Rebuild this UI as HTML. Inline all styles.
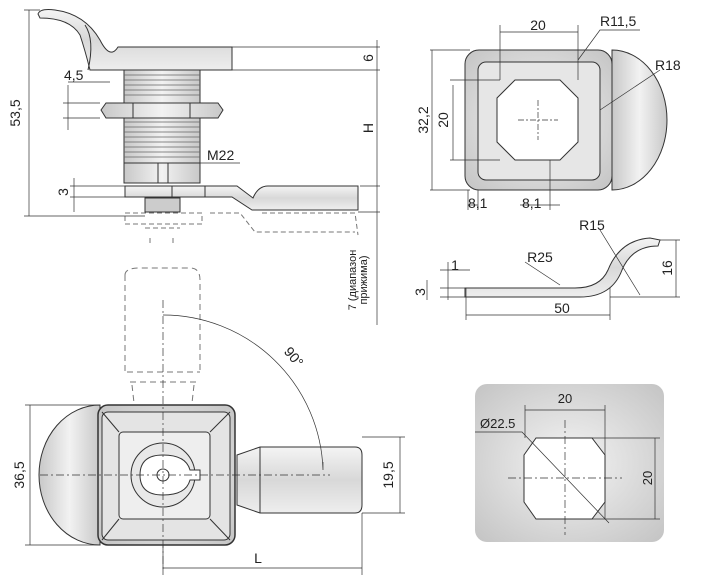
<!DOCTYPE html>
<html><head><style>html,body{margin:0;padding:0;background:#fff}svg{display:block}text{font-family:"Liberation Sans",sans-serif;fill:#222}</style></head><body>
<svg width="707" height="581" viewBox="0 0 707 581" xmlns="http://www.w3.org/2000/svg">
<defs>
<linearGradient id="g" x1="0" y1="0" x2="0" y2="1"><stop offset="0" stop-color="#f4f4f4"/><stop offset="0.5" stop-color="#d8d8d8"/><stop offset="1" stop-color="#eee"/></linearGradient>
<linearGradient id="gh" x1="0" y1="0" x2="1" y2="0"><stop offset="0" stop-color="#c8c8c8"/><stop offset="0.5" stop-color="#f2f2f2"/><stop offset="1" stop-color="#c8c8c8"/></linearGradient>
<radialGradient id="gp" cx="0.5" cy="0.5" r="0.7"><stop offset="0" stop-color="#f4f4f4"/><stop offset="1" stop-color="#c4c4c4"/></radialGradient>
</defs>
<g stroke="#333" stroke-width="1" fill="none">
<!-- TOP LEFT side view -->
<path d="M38,14 Q40,8 55,10 Q85,14 100,40 Q110,60 118,47 L232,47 L232,70 L90,70 Q85,50 80,35 Q70,18 40,18 Z" fill="url(#g)"/>
<path d="M88,70 Q95,40 85,25" />
<rect x="124" y="70" width="76" height="93" fill="url(#gh)"/>
<g stroke="#666" stroke-width="0.7">
<path d="M124,75 H200 M124,80 H200 M124,85 H200 M124,90 H200 M124,95 H200 M124,122 H200 M124,127 H200 M124,132 H200 M124,137 H200 M124,142 H200 M124,147 H200 M124,152 H200 M124,157 H200"/>
</g>
<path d="M101,110 L106,103 H218 L223,110 L218,118 H106 Z" fill="url(#gh)"/>
<path d="M133,103 V118 M190,103 V118"/>
<rect x="124" y="163" width="76" height="20" fill="url(#gh)"/>
<path d="M158,163 V183 M168,163 V183"/>
<path d="M125,186 H202 L237,186 L253,198 Q258,186 268,186 H358 V210 H252 L232,197 H125 Z" fill="url(#g)"/>
<path d="M172,186 V197 M205,186 V197"/>
<path d="M145,198 H180 V212 H145 Z" fill="#ccc"/>
<g stroke-dasharray="5,3" stroke="#777">
<path d="M125,213 H202 V224 H125 Z M210,213 H240 L255,232 H355 M262,213 H355 L358,235 M145,228 H180 M150,238 V246 M173,238 V246"/>
</g>
<!-- dims top-left -->
<path d="M29,10 V216 M24,216 H145 M24,10 H40 M232,47 H380 M232,70 H380 M360,186 H380 M358,212 H380 M377,40 V220 M377,212 V325" stroke-width="0.7"/>
<path d="M68,85 V130 M63,103 H100 M63,118 H100 M68,82 H110 M74,178 V212 M70,186 H125 M70,197 H125 M200,163 H240" stroke-width="0.7"/>
</g>
<text x="20" y="113" font-size="14" transform="rotate(-90 20 113)" text-anchor="middle">53,5</text>
<text x="64" y="80" font-size="14">4,5</text>
<text x="207" y="160" font-size="14">M22</text>
<text x="68" y="192" font-size="14" transform="rotate(-90 68 192)" text-anchor="middle">3</text>
<text x="373" y="58" font-size="14" transform="rotate(-90 373 58)" text-anchor="middle">6</text>
<text x="373" y="128" font-size="14" transform="rotate(-90 373 128)" text-anchor="middle">H</text>
<text x="356" y="280" font-size="11" transform="rotate(-90 356 280)" text-anchor="middle">7 (диапазон</text>
<text x="367" y="280" font-size="11" transform="rotate(-90 367 280)" text-anchor="middle">прижима)</text>

<!-- TOP RIGHT front view -->
<g stroke="#333" fill="none">
<path d="M612,50 A55,70 0 0 1 612,190 Z" fill="url(#gh)"/>
<rect x="465" y="50" width="147" height="140" rx="14" fill="url(#gp)"/>
<rect x="478" y="62" width="122" height="118" rx="8" fill="#e6e6e6"/>
<path d="M515,80 H560 L578,98 V142 L560,160 H515 L497,142 V98 Z" fill="#fff"/>
<g stroke-width="0.7">
<path d="M500,80 V25 M578,80 V25 M500,32 H578 M578,60 L600,30 H640 M600,110 L660,70 M430,50 H470 M430,190 H470 M432,50 V190 M453,85 V160 M450,80 H500 M450,160 H500 M468,190 V210 M478,190 V210 M468,205 H478 M550,160 V210 M520,205 H560"/>
<path d="M538,100 V140 M518,120 H558" stroke-dasharray="6,2,2,2"/>
</g>
</g>
<text x="538" y="30" font-size="14" text-anchor="middle">20</text>
<text x="600" y="26" font-size="14">R11,5</text>
<text x="655" y="70" font-size="14">R18</text>
<text x="428" y="120" font-size="14" transform="rotate(-90 428 120)" text-anchor="middle">32,2</text>
<text x="448" y="120" font-size="14" transform="rotate(-90 448 120)" text-anchor="middle">20</text>
<text x="468" y="208" font-size="14">8,1</text>
<text x="522" y="208" font-size="14">8,1</text>

<!-- MIDDLE RIGHT profile -->
<g stroke="#333" fill="none">
<path d="M465,288 H575 Q600,288 608,270 Q620,240 650,238 L660,240 L658,246 Q632,246 622,270 Q612,297 580,297 H465 Z" fill="url(#g)"/>
<g stroke-width="0.7"><path d="M466,288 V320 M610,288 V320 M466,315 H610 M660,240 H680 M610,297 H680 M676,240 V297 M440,270 H470 M440,288 H470 M440,297 H470 M448,262 V300 M427,280 V300 M600,230 L640,295 M525,262 L560,285"/></g>
</g>
<text x="592" y="230" font-size="14" text-anchor="middle">R15</text>
<text x="540" y="262" font-size="14" text-anchor="middle">R25</text>
<text x="455" y="270" font-size="14" text-anchor="middle">1</text>
<text x="425" y="292" font-size="14" transform="rotate(-90 425 292)" text-anchor="middle">3</text>
<text x="672" y="268" font-size="14" transform="rotate(-90 672 268)" text-anchor="middle">16</text>
<text x="562" y="313" font-size="14" text-anchor="middle">50</text>

<!-- BOTTOM LEFT top view -->
<g stroke="#333" fill="none">
<path d="M125,275 Q125,268 140,268 H190 Q200,268 200,280 V372 M125,275 V372 M127,372 H200 M130,382 H197 M132,385 L134,403 M194,385 L192,403" stroke-dasharray="6,4" stroke="#777"/>
<path d="M100,405 A61,70 0 0 0 100,545 Z" fill="url(#gh)"/>
<path d="M237,455 L260,447 H355 Q362,447 362,455 V505 Q362,513 355,513 H260 L237,505 Z" fill="url(#g)"/>
<path d="M260,447 V513"/>
<rect x="98" y="405" width="137" height="140" rx="10" fill="url(#gp)" stroke-width="1.5"/>
<rect x="102" y="412" width="128" height="128" rx="6" fill="#e4e4e4"/>
<rect x="119" y="432" width="91" height="87" rx="4" fill="#eee"/>
<path d="M102,412 L119,432 M230,412 L210,432 M102,540 L119,519 M230,540 L210,519"/>
<circle cx="163" cy="475" r="32" fill="#e8e8e8"/>
<path d="M140,475 Q140,455 163,455 Q186,455 190,470 H200 V480 H190 Q186,495 163,495 Q140,495 140,475 Z" fill="#fff"/>
<circle cx="163" cy="475" r="6"/>
<g stroke-width="0.7">
<path d="M163,300 V570 M40,475 H330" stroke-dasharray="8,3,2,3"/>
<path d="M163,315 A160,160 0 0 1 323,470 M323,462 L323,470" />
<path d="M25,405 H100 M25,545 H100 M30,405 V545 M362,437 H405 M362,513 H405 M400,437 V513 M163,545 V575 M362,513 V575 M163,568 H362"/>
</g>
</g>
<text x="290" y="360" font-size="14" transform="rotate(50 290 360)" text-anchor="middle">90°</text>
<text x="24" y="475" font-size="14" transform="rotate(-90 24 475)" text-anchor="middle">36,5</text>
<text x="393" y="475" font-size="14" transform="rotate(-90 393 475)" text-anchor="middle">19,5</text>
<text x="258" y="563" font-size="14" text-anchor="middle">L</text>

<!-- BOTTOM RIGHT cutout -->
<g stroke="#333" fill="none">
<rect x="475" y="384" width="189" height="158" rx="12" fill="url(#gp)" stroke="none"/>
<path d="M536,438 H592 L605,455 V502 L592,519 H536 L524,502 V455 Z" fill="#fff"/>
<g stroke-width="0.7">
<path d="M525,405 V438 M605,405 V519 M525,410 H605 M590,438 H660 M590,519 H660 M655,438 V519 M475,432 H522 L609,523"/>
<path d="M565,420 V535 M508,478 H622" stroke-dasharray="8,3,2,3"/>
</g>
</g>
<text x="565" y="403" font-size="13" text-anchor="middle">20</text>
<text x="480" y="428" font-size="13">Ø22.5</text>
<text x="652" y="478" font-size="13" transform="rotate(-90 652 478)" text-anchor="middle">20</text>
</svg>
</body></html>
